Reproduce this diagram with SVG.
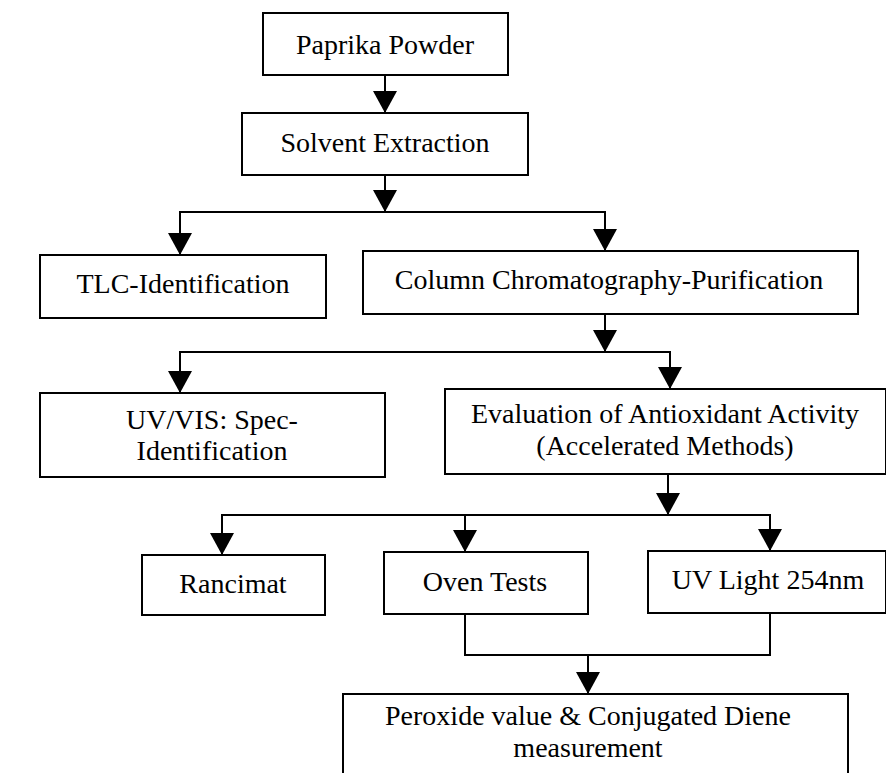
<svg xmlns="http://www.w3.org/2000/svg" width="886" height="773" viewBox="0 0 886 773">
<style>
.box{fill:#fff;stroke:#000;stroke-width:2}
.t{font-family:"Liberation Serif","Times New Roman",serif;font-size:28px;fill:#000;text-anchor:middle}
.c{fill:none;stroke:#000;stroke-width:2}
</style>
<defs>
<marker id="ah" viewBox="0 0 22 24" refX="22" refY="12" markerWidth="22" markerHeight="24" markerUnits="userSpaceOnUse" orient="auto">
<path d="M0,0 L22,12 L0,24 Z" fill="#000"/>
</marker>
</defs>
<rect width="886" height="773" fill="#fff"/>
<g id="connectors">
<path class="c" d="M385,75 V113" marker-end="url(#ah)"/>
<path class="c" d="M180,212 H605"/>
<path class="c" d="M385,175 V212" marker-end="url(#ah)"/>
<path class="c" d="M180,211 V255" marker-end="url(#ah)"/>
<path class="c" d="M605,211 V251" marker-end="url(#ah)"/>
<path class="c" d="M605,314 V352" marker-end="url(#ah)"/>
<path class="c" d="M180,352 H670"/>
<path class="c" d="M180,351 V393" marker-end="url(#ah)"/>
<path class="c" d="M670,351 V389" marker-end="url(#ah)"/>
<path class="c" d="M668,474 V515" marker-end="url(#ah)"/>
<path class="c" d="M222,515 H770"/>
<path class="c" d="M222,514 V555" marker-end="url(#ah)"/>
<path class="c" d="M465,514 V552" marker-end="url(#ah)"/>
<path class="c" d="M770,514 V551" marker-end="url(#ah)"/>
<path class="c" d="M465,614 V655 H770 V613"/>
<path class="c" d="M588,655 V694" marker-end="url(#ah)"/>
</g>
<g id="n1"><rect class="box" x="263" y="13" width="245" height="62"/><text class="t" x="385" y="54">Paprika Powder</text></g>
<g id="n2"><rect class="box" x="242" y="113" width="286" height="62"/><text class="t" x="385" y="152">Solvent Extraction</text></g>
<g id="n3"><rect class="box" x="40" y="255" width="286" height="63"/><text class="t" x="183" y="293">TLC-Identification</text></g>
<g id="n4"><rect class="box" x="363" y="251" width="495" height="63"/><text class="t" x="609" y="289">Column Chromatography-Purification</text></g>
<g id="n5"><rect class="box" x="40" y="393" width="345" height="84"/><text class="t" x="212" y="429">UV/VIS: Spec-</text><text class="t" x="212" y="460">Identification</text></g>
<g id="n6"><rect class="box" x="445" y="389" width="441" height="85"/><text class="t" x="665" y="423">Evaluation of Antioxidant Activity</text><text class="t" x="665" y="455">(Accelerated Methods)</text></g>
<g id="n7"><rect class="box" x="142" y="555" width="183" height="60"/><text class="t" x="233" y="593">Rancimat</text></g>
<g id="n8"><rect class="box" x="384" y="552" width="204" height="62"/><text class="t" x="485" y="591">Oven Tests</text></g>
<g id="n9"><rect class="box" x="648" y="551" width="238" height="62"/><text class="t" x="768" y="589">UV Light 254nm</text></g>
<g id="n10"><rect class="box" x="343" y="694" width="505" height="90"/><text class="t" x="588" y="725">Peroxide value &amp; Conjugated Diene</text><text class="t" x="588" y="757">measurement</text></g>
</svg>
